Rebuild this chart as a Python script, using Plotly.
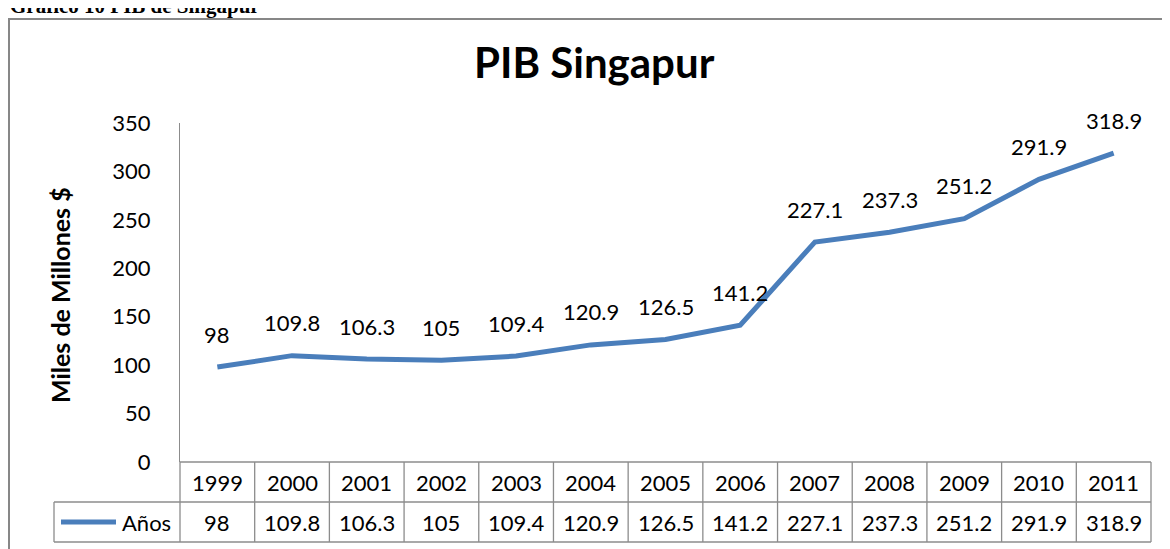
"""
PIB Singapur - line chart with Excel-style data table underneath
"""

import plotly.graph_objects as go

years = ['1999', '2000', '2001', '2002', '2003', '2004', '2005',
         '2006', '2007', '2008', '2009', '2010', '2011']
pib = [98, 109.8, 106.3, 105, 109.4, 120.9, 126.5,
       141.2, 227.1, 237.3, 251.2, 291.9, 318.9]
y_ticks = [0, 50, 100, 150, 200, 250, 300, 350]

LINE_BLUE = '#4A7EBB'
GRID_GRAY = '#8C8C8C'
FONT = 'Lato'

# the page adds an 8px body margin, so targets below are page pixels minus 8
W, H = 1170, 549
L, R, T, B = 172, 27, 115, 95
plot_w = W - L - R
plot_h = H - T - B


def px_to_paper_x(px):
    return (px - L) / plot_w


def px_to_paper_y(py):
    return (H - B - py) / plot_h


fig = go.Figure()

fig.add_trace(go.Scatter(
    x=years,
    y=pib,
    mode='lines',
    name='Años',
    line=dict(color=LINE_BLUE, width=5),
    showlegend=False
))

# data labels above the points (category index positions)
for i, v in enumerate(pib):
    fig.add_annotation(
        x=i, y=v, xref='x', yref='y',
        text=f'{v:g}', showarrow=False,
        yanchor='middle', yshift=33,
        font=dict(family=FONT, size=22, color='black')
    )

row1_top = 0
row1_bot = px_to_paper_y(494)
row2_bot = px_to_paper_y(534)
legend_left = px_to_paper_x(46)

shapes = []
line_style = dict(color=GRID_GRAY, width=1.3)
# horizontal table lines
shapes.append(dict(type='line', xref='paper', yref='paper', x0=0, x1=1,
                   y0=row1_top, y1=row1_top, line=line_style))
shapes.append(dict(type='line', xref='paper', yref='paper', x0=legend_left, x1=1,
                   y0=row1_bot, y1=row1_bot, line=line_style))
shapes.append(dict(type='line', xref='paper', yref='paper', x0=legend_left, x1=1,
                   y0=row2_bot, y1=row2_bot, line=line_style))
# vertical table lines
for k in range(len(years) + 1):
    xp = k / len(years)
    shapes.append(dict(type='line', xref='paper', yref='paper', x0=xp, x1=xp,
                       y0=row1_top, y1=row2_bot, line=line_style))
shapes.append(dict(type='line', xref='paper', yref='paper', x0=legend_left, x1=legend_left,
                   y0=row1_bot, y1=row2_bot, line=line_style))
# legend key line
shapes.append(dict(type='line', xref='paper', yref='paper',
                   x0=px_to_paper_x(53), x1=px_to_paper_x(108),
                   y0=px_to_paper_y(514), y1=px_to_paper_y(514),
                   line=dict(color=LINE_BLUE, width=5)))
# outer chart border
shapes.append(dict(type='rect', xref='paper', yref='paper',
                   x0=px_to_paper_x(1), x1=px_to_paper_x(1190),
                   y0=px_to_paper_y(570), y1=px_to_paper_y(11),
                   line=dict(color='#878787', width=2)))

# table text
for i, (yr, v) in enumerate(zip(years, pib)):
    fig.add_annotation(x=i, y=px_to_paper_y(474), xref='x', yref='paper',
                       text=yr, showarrow=False, yanchor='middle',
                       font=dict(family=FONT, size=22, color='black'))
    fig.add_annotation(x=i, y=px_to_paper_y(514), xref='x', yref='paper',
                       text=f'{v:g}', showarrow=False, yanchor='middle',
                       font=dict(family=FONT, size=22, color='black'))

fig.add_annotation(x=px_to_paper_x(165), y=px_to_paper_y(514), xref='paper', yref='paper',
                   text='Años', showarrow=False, xanchor='right', yanchor='middle',
                   font=dict(family=FONT, size=22, color='black'))

# axis title
fig.add_annotation(x=px_to_paper_x(52), y=px_to_paper_y(287), xref='paper', yref='paper',
                   text='<b>Miles de Millones $</b>', showarrow=False, textangle=-90,
                   xanchor='center', yanchor='middle',
                   font=dict(family=FONT, size=25, color='black'))

# chart title
fig.add_annotation(x=px_to_paper_x(586), y=px_to_paper_y(54), xref='paper', yref='paper',
                   text='<b>PIB Singapur</b>', showarrow=False,
                   xanchor='center', yanchor='middle',
                   font=dict(family=FONT, size=42, color='black'))

# document caption, cut off at the top
fig.add_annotation(x=px_to_paper_x(0), y=px_to_paper_y(12), xref='paper', yref='paper',
                   text='<b>Gráfico 10 PIB de Singapur</b>', showarrow=False,
                   xanchor='left', yanchor='bottom',
                   font=dict(family='Liberation Serif', size=21, color='black'))

fig.update_layout(
    width=W, height=H,
    margin=dict(l=L, r=R, t=T, b=B),
    paper_bgcolor='white',
    plot_bgcolor='white',
    shapes=shapes,
    xaxis=dict(
        type='category',
        range=[-0.5, len(years) - 0.5],
        showticklabels=False,
        showgrid=False,
        zeroline=False,
        showline=False,
        ticks=''
    ),
    yaxis=dict(
        range=[0, 350],
        tickvals=y_ticks,
        showgrid=False,
        zeroline=False,
        showline=True,
        linecolor=GRID_GRAY,
        linewidth=1.3,
        ticks='',
        ticklabelstandoff=24,
        tickfont=dict(family=FONT, size=22, color='black')
    ),
    showlegend=False
)

fig.write_html("out.html")
